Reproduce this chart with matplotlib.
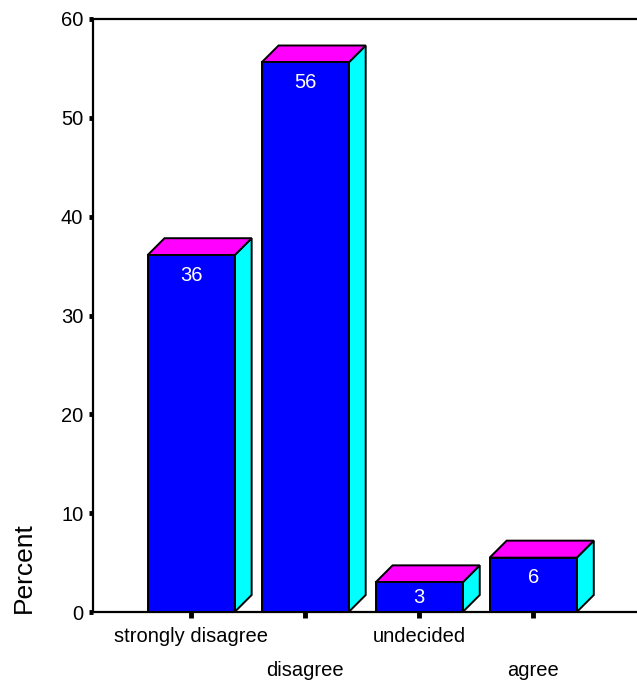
import matplotlib
matplotlib.use("Agg")
import matplotlib.pyplot as plt
from matplotlib.patches import Polygon

categories = ["strongly disagree", "disagree", "undecided", "agree"]
values = [36.1, 55.6, 3.0, 5.5]
labels = ["36", "56", "3", "6"]
yticks = [0, 10, 20, 30, 40, 50, 60]

plt.rcParams['font.family'] = ['Liberation Sans', 'DejaVu Sans']

W, H = 637, 681
fig = plt.figure(figsize=(W / 100, H / 100), dpi=100)
ax = fig.add_axes([93 / W, 1 - 612 / H, 1 - 93 / W, (612 - 19) / H])
ax.set_xlim(-0.86, 3.91)
ax.set_ylim(0, 60)

# pixel -> data conversion for 3D depth
px_x = (3.91 + 0.86) / (W - 93)
px_y = 60 / (612 - 19)
dx = 17 * px_x
dy = 17 * px_y
hw = 0.382

front_c = "#0000ff"
top_c = "#ff00ff"
side_c = "#00ffff"
lw = 1.4

for i, v in enumerate(values):
    x0, x1 = i - hw, i + hw
    side = Polygon([(x1, 0), (x1, v), (x1 + dx, v + dy), (x1 + dx, dy)],
                   closed=True, facecolor=side_c, edgecolor="black", lw=lw, zorder=3)
    top = Polygon([(x0, v), (x1, v), (x1 + dx, v + dy), (x0 + dx, v + dy)],
                  closed=True, facecolor=top_c, edgecolor="black", lw=lw, zorder=3)
    front = Polygon([(x0, 0), (x1, 0), (x1, v), (x0, v)],
                    closed=True, facecolor=front_c, edgecolor="black", lw=lw, zorder=4)
    ax.add_patch(side)
    ax.add_patch(top)
    ax.add_patch(front)
    ly = max(v - 20 * px_y, v / 2)
    ax.text(i, ly, labels[i], color="white", ha="center", va="center",
            fontsize=14.5, zorder=5)

ax.set_yticks(yticks)
ax.set_yticklabels([str(t) for t in yticks], fontsize=14.5)
ax.get_yticklabels()[0].set_y(0.7)
ax.set_xticks(range(len(categories)))
ax.set_xticklabels([])
ax.tick_params(axis="y", direction="out", length=3, width=3.5, pad=4)
ax.tick_params(axis="x", direction="out", length=4, width=3.5)

for k, c in enumerate(categories):
    off = -15 if k % 2 == 0 else -49
    ax.annotate(c, xy=(k, 0), xycoords="data", xytext=(0, off * 0.72),
                textcoords="offset points", ha="center", va="top", fontsize=14.5,
                annotation_clip=False)

for s in ["left", "top", "bottom"]:
    ax.spines[s].set_linewidth(1.6)
ax.spines["right"].set_visible(False)

fig.text(24 / W, 1 - 568 / H, "Percent", rotation=90, ha="center", va="center",
         fontsize=19)

fig.savefig("out.png", dpi=100)
